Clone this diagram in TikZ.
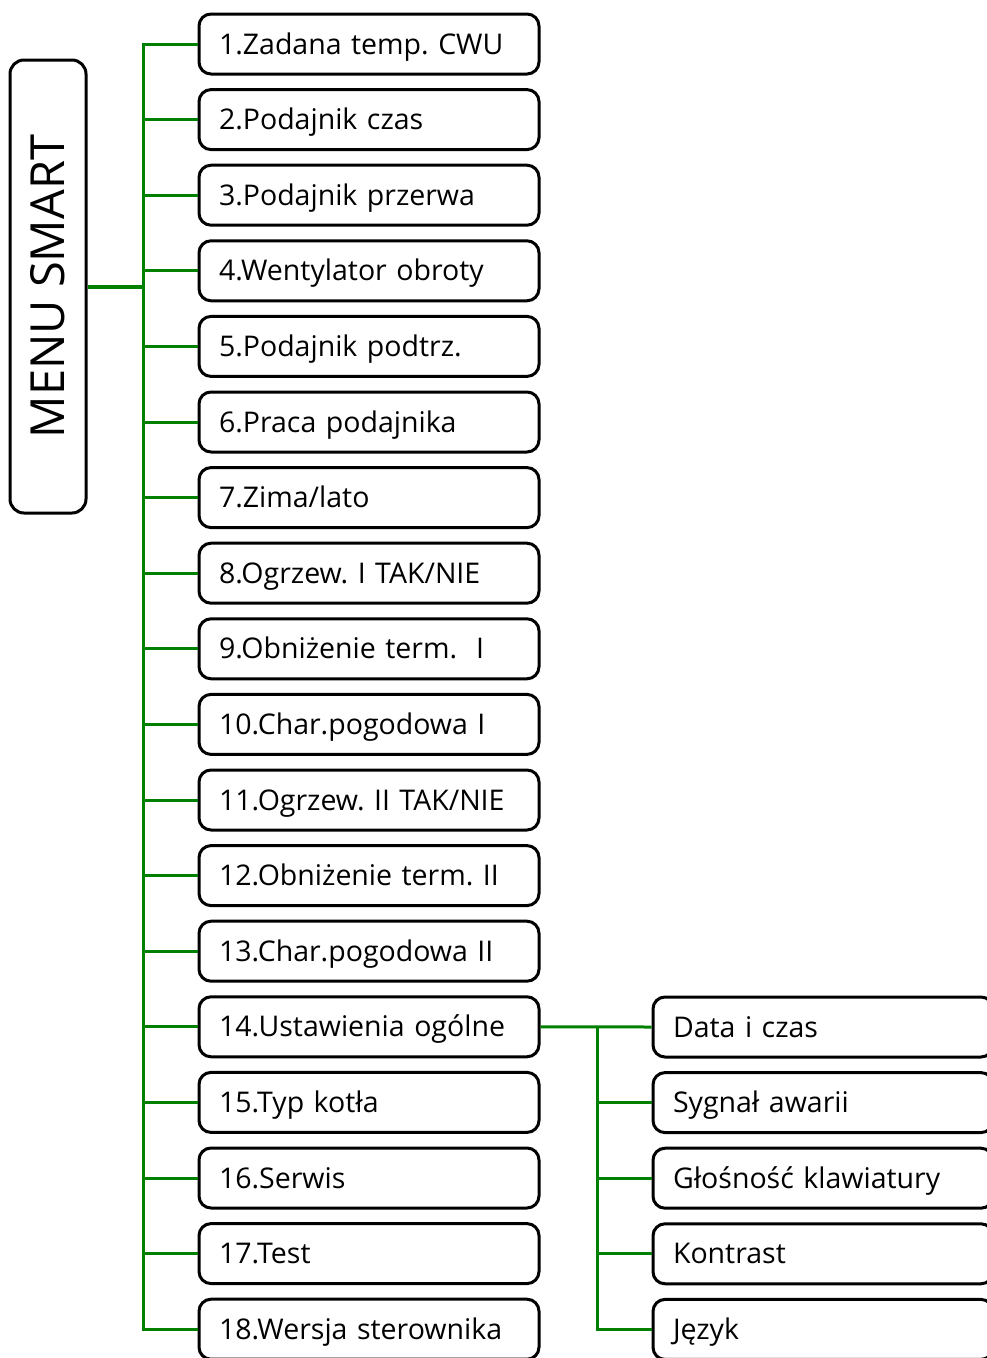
\documentclass[tikz,border=0pt]{standalone}
\usepackage{fontspec}
\setmainfont{Open Sans}
\usetikzlibrary{positioning}
\definecolor{menugreen}{RGB}{0,128,0}
\tikzset{
  item/.style={draw, line width=3pt, rounded corners=12pt, text width=300pt,
    inner xsep=20pt, inner ysep=0pt, minimum height=60pt, align=left,
    text height=23pt, text depth=3pt, font=\fontsize{28.5}{33}\selectfont},
  menubox/.style={draw, line width=3pt, rounded corners=14pt, rotate=90,
    minimum width=453pt, minimum height=76pt, inner sep=0pt,
    font=\fontsize{47}{56}\selectfont},
  link/.style={draw=menugreen, line width=3pt},
}
\frenchspacing
\begin{document}
\begin{tikzpicture}[x=1pt,y=-1pt]
\useasboundingbox (0,0) rectangle (987,1358);
% main menu
\node[menubox] (menu) at (48,286.5) {MENU SMART};
% menu items
\foreach \i/\txt in {1/{1.Zadana temp. CWU}, 2/{2.Podajnik czas}, 3/{3.Podajnik przerwa},
    4/{4.Wentylator obroty}, 5/{5.Podajnik podtrz.}, 6/{6.Praca podajnika},
    7/{7.Zima/lato}, 8/{8.Ogrzew. I TAK/NIE}, 9/{9.Obniżenie term.\ \ I},
    10/{10.Char.pogodowa I}, 11/{11.Ogrzew. II TAK/NIE}, 12/{12.Obniżenie term. II},
    13/{13.Char.pogodowa II}, 14/{14.Ustawienia ogólne}, 15/{15.Typ kotła},
    16/{16.Serwis}, 17/{17.Test}, 18/{18.Wersja sterownika}}
  \node[item] (item\i) at (369,{44+75.6*(\i-1)}) {\txt};
% submenu of item 14
\foreach \i/\txt in {1/{Data i czas}, 2/{Sygnał awarii}, 3/{Głośność klawiatury},
    4/{Kontrast}, 5/{Język}}
  \node[item] (sub\i) at (823,{1027+75.6*(\i-1)}) {\txt};
% connectors
\coordinate (bus) at (143,0);
\coordinate (subbus) at (597,0);
\draw[link, line width=4pt] (menu.south) -- (bus |- menu.south);
\draw[link] (item1.west) -- (bus |- item1.west) -- (bus |- item18.west) -- (item18.west);
\foreach \i in {2,...,17}
  \draw[link] (bus |- item\i.west) -- (item\i.west);
\draw[link] (item14.east) -- (sub1.west);
\draw[link] (subbus |- sub1.west) -- (subbus |- sub5.west) -- (sub5.west);
\foreach \i in {2,3,4}
  \draw[link] (subbus |- sub\i.west) -- (sub\i.west);
\end{tikzpicture}
\end{document}
